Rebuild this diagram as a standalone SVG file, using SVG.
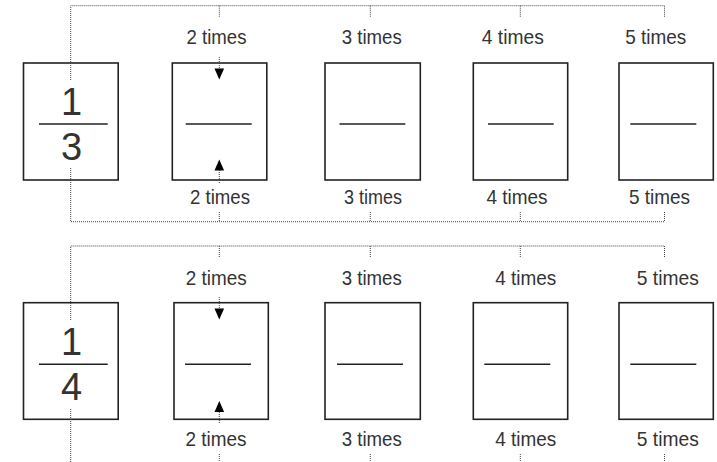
<svg xmlns="http://www.w3.org/2000/svg" width="717" height="462" viewBox="0 0 717 462">
<style>
.box{fill:#fff;stroke:#222;stroke-width:1.6}
.bar{stroke:#222;stroke-width:1.4}
.dot{fill:none;stroke:#444;stroke-width:1;stroke-dasharray:1 1}
.lbl{font-family:"Liberation Sans",Arial,sans-serif;font-size:21px;fill:#333;text-anchor:middle;font-weight:300}
.num{font-family:"Liberation Sans",Arial,sans-serif;font-size:38px;fill:#333;text-anchor:middle;font-weight:300}
.ah{fill:#000}
</style>
<rect width="717" height="462" fill="#fff"/>
<!-- row 1 nodes -->
<g id="r1-frac">
<rect class="box" x="23.5" y="63" width="94.7" height="117"/>
<text class="num" x="71.5" y="115">1</text>
<line class="bar" x1="39" y1="124" x2="107.7" y2="124"/>
<text class="num" x="71.5" y="160">3</text>
</g>
<g id="r1-b2">
<rect class="box" x="172.3" y="63" width="94.5" height="117"/>
<line class="bar" x1="185.7" y1="124" x2="251.7" y2="124"/>
</g>
<g id="r1-b3">
<rect class="box" x="325" y="63" width="95.3" height="117"/>
<line class="bar" x1="339.5" y1="124" x2="405.3" y2="124"/>
</g>
<g id="r1-b4">
<rect class="box" x="473.3" y="63" width="94.4" height="117"/>
<line class="bar" x1="488" y1="124" x2="553.7" y2="124"/>
</g>
<g id="r1-b5">
<rect class="box" x="619" y="63" width="94.3" height="117"/>
<line class="bar" x1="630.3" y1="124" x2="696.3" y2="124"/>
</g>
<g id="r1-labels">
<text class="lbl" x="216.5" y="44" textLength="60" lengthAdjust="spacingAndGlyphs">2 times</text>
<text class="lbl" x="371.7" y="44" textLength="60" lengthAdjust="spacingAndGlyphs">3 times</text>
<text class="lbl" x="512.8" y="44" textLength="62" lengthAdjust="spacingAndGlyphs">4 times</text>
<text class="lbl" x="655.8" y="44" textLength="61" lengthAdjust="spacingAndGlyphs">5 times</text>
<text class="lbl" x="220" y="204" textLength="60" lengthAdjust="spacingAndGlyphs">2 times</text>
<text class="lbl" x="373" y="204" textLength="58" lengthAdjust="spacingAndGlyphs">3 times</text>
<text class="lbl" x="517" y="204" textLength="61" lengthAdjust="spacingAndGlyphs">4 times</text>
<text class="lbl" x="659.5" y="204" textLength="61" lengthAdjust="spacingAndGlyphs">5 times</text>
</g>
<!-- row 2 nodes -->
<g id="r2-frac">
<rect class="box" x="23.5" y="302.7" width="94.7" height="116.6"/>
<text class="num" x="71.5" y="355">1</text>
<line class="bar" x1="39" y1="364.3" x2="107.7" y2="364.3"/>
<text class="num" x="71.5" y="400">4</text>
</g>
<g id="r2-b2">
<rect class="box" x="174" y="302.7" width="94.3" height="116.6"/>
<line class="bar" x1="185" y1="364.3" x2="251" y2="364.3"/>
</g>
<g id="r2-b3">
<rect class="box" x="325" y="302.7" width="95.3" height="116.6"/>
<line class="bar" x1="337" y1="364.3" x2="403" y2="364.3"/>
</g>
<g id="r2-b4">
<rect class="box" x="473.3" y="302.7" width="94.4" height="116.6"/>
<line class="bar" x1="484.3" y1="364.3" x2="550.3" y2="364.3"/>
</g>
<g id="r2-b5">
<rect class="box" x="619" y="302.7" width="94.3" height="116.6"/>
<line class="bar" x1="630.3" y1="364.3" x2="696.3" y2="364.3"/>
</g>
<g id="r2-labels">
<text class="lbl" x="216.3" y="285" textLength="61" lengthAdjust="spacingAndGlyphs">2 times</text>
<text class="lbl" x="371.7" y="285" textLength="60" lengthAdjust="spacingAndGlyphs">3 times</text>
<text class="lbl" x="525.8" y="285" textLength="61" lengthAdjust="spacingAndGlyphs">4 times</text>
<text class="lbl" x="667.8" y="285" textLength="62" lengthAdjust="spacingAndGlyphs">5 times</text>
<text class="lbl" x="216" y="446" textLength="61" lengthAdjust="spacingAndGlyphs">2 times</text>
<text class="lbl" x="371.7" y="446" textLength="60" lengthAdjust="spacingAndGlyphs">3 times</text>
<text class="lbl" x="525.8" y="446" textLength="61" lengthAdjust="spacingAndGlyphs">4 times</text>
<text class="lbl" x="667.8" y="446" textLength="62" lengthAdjust="spacingAndGlyphs">5 times</text>
</g>
<g id="connectors">
<!-- row 1 -->
<path class="dot" d="M70.7,80 V5.7 H664.5 M219.3,5.7 V17 M370.3,5.7 V17 M520.3,5.7 V17 M664.5,5.7 V17"/>
<path class="dot" d="M219.3,57 V69"/>
<path class="ah" d="M214.5,68.5 L224.1,68.5 L219.3,79.5 Z"/>
<path class="dot" d="M219.3,170 V183"/>
<path class="ah" d="M214.5,170.5 L224.1,170.5 L219.3,159.5 Z"/>
<path class="dot" d="M70.7,168 V221.7 H664.5 M219.3,212 V221.7 M370.3,212 V221.7 M520.3,212 V221.7 M664.5,212 V221.7"/>
<!-- row 2 -->
<path class="dot" d="M70.7,320 V246 H664.5 M219.3,246 V257 M370.3,246 V257 M520.3,246 V257 M664.5,246 V257"/>
<path class="dot" d="M219.3,297 V309"/>
<path class="ah" d="M214.5,308.5 L224.1,308.5 L219.3,319.5 Z"/>
<path class="dot" d="M219.3,412 V423"/>
<path class="ah" d="M214.5,412 L224.1,412 L219.3,401 Z"/>
<path class="dot" d="M70.7,409 V462 M219.3,454 V462 M370.3,454 V462 M520.3,454 V462 M664.5,454 V462"/>
</g>
</svg>
